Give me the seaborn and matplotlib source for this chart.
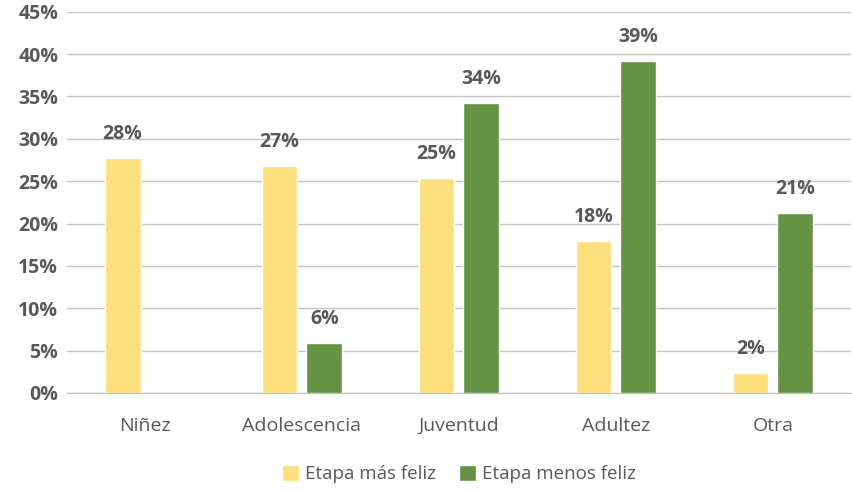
import pandas as pd
import matplotlib.pyplot as plt
import seaborn as sns

etapas = ["Niñez", "Adolescencia", "Juventud", "Adultez", "Otra"]
mas_feliz = [27.7, 26.8, 25.4, 17.9, 2.4]
menos_feliz = [0.0, 5.9, 34.2, 39.2, 21.2]
series = ["Etapa más feliz", "Etapa menos feliz"]
colores = ["#FDDF7E", "#649343"]

df = pd.DataFrame({
    "etapa": etapas * 2,
    "valor": mas_feliz + menos_feliz,
    "serie": [series[0]] * len(etapas) + [series[1]] * len(etapas),
})

sns.set_style("white")
plt.rcParams['font.family'] = ['Open Sans', 'DejaVu Sans']

fig = plt.figure(figsize=(8.53, 4.9), dpi=100)
ax = fig.add_axes([0.078, 0.198, 0.92, 0.778])

sns.barplot(data=df, x="etapa", y="valor", hue="serie", palette=colores,
            width=0.57, gap=0.2, ax=ax, saturation=1)

ax.set_ylim(0, 45)
ax.set_yticks(range(0, 46, 5))
ax.set_yticklabels(["{}%".format(v) for v in range(0, 46, 5)],
                   fontsize=14, fontweight="bold", color="#595959")
ax.tick_params(axis="x", labelsize=14, colors="#595959", length=0, pad=17)
ax.tick_params(axis="y", length=0, pad=6)
ax.grid(axis="y", color="#c4c4c4", linewidth=1)
ax.set_axisbelow(True)
for s in ["top", "right", "left"]:
    ax.spines[s].set_visible(False)
ax.spines["bottom"].set_color("#bfbfbf")
ax.set_xlabel("")
ax.set_ylabel("")
ax.set_xlim(-0.5, 4.5)

# etiquetas de valores
for cont in ax.containers:
    labels = ["{:.0f}%".format(b.get_height()) if b.get_height() > 0 else "" for b in cont]
    ax.bar_label(cont, labels=labels, padding=10, fontsize=14,
                 fontweight="bold", color="#595959")

ax.legend(loc="upper center", bbox_to_anchor=(0.5, -0.145), ncol=2, frameon=False,
          fontsize=13.5, handlelength=0.9, handleheight=0.9, handletextpad=0.35,
          columnspacing=1.2, labelcolor="#595959")

fig.savefig("out.png", dpi=100)
